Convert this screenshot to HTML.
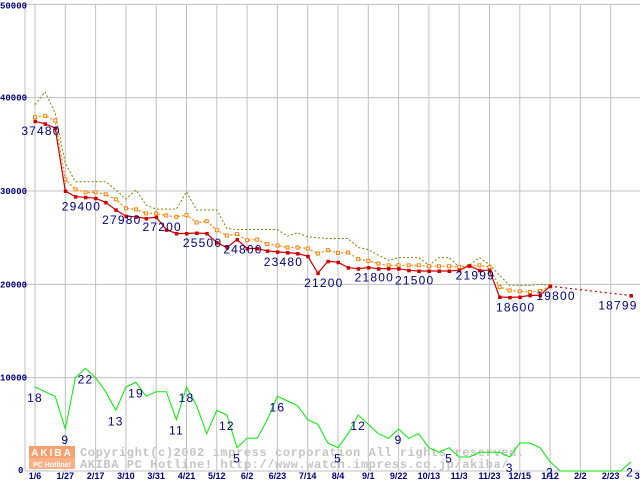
<!DOCTYPE html>
<html><head><meta charset="utf-8"><style>
html,body{margin:0;padding:0;background:#fff;}
svg{display:block;}
.yt{font:bold 9px "Liberation Mono",monospace;fill:#000080;}
.xt{font:bold 9px "Liberation Sans",sans-serif;fill:#000080;}
.pl{font:12px "Liberation Sans",sans-serif;fill:#000080;letter-spacing:1.2px;}
.wm{font:bold 12px "Liberation Mono",monospace;fill:#c4c4c4;letter-spacing:0.6px;}
</style></head><body>
<svg id="chart" width="640" height="480" xmlns="http://www.w3.org/2000/svg">
<g id="grid"></g>
<g id="wmark">
<rect x="29" y="446" width="46" height="12" fill="#f8a070"/>
<rect x="29" y="458" width="46" height="11" fill="#f8b088"/>
<text x="52" y="456" text-anchor="middle" style="font:bold 10px 'Liberation Sans',sans-serif;fill:#fff;letter-spacing:2px">AKIBA</text>
<text x="52" y="467" text-anchor="middle" style="font:bold 7px 'Liberation Sans',sans-serif;fill:#fff">PC Hotline!</text>
<text class="wm" x="80" y="456">Copyright(c)2002 impress corporation All rights reserved.</text>
<text class="wm" x="80" y="468">AKIBA PC Hotline!  http://www.watch.impress.co.jp/akiba/</text>
</g>
<g id="series"></g>
<g id="labels"></g>
</svg>
<script>
const xTickLabels=["1/6","1/27","2/17","3/10","3/31","4/21","5/12","6/2","6/23","7/14","8/4","9/1","9/22","10/13","11/3","11/23","12/15","1/12","2/2","2/23","3/9"];
const yTicks=[0,10000,20000,30000,40000,50000];
const maxPrice=[39250,40610,38350,32980,31000,31000,31000,31000,30110,29140,30110,28490,28060,28060,28060,29930,27960,27960,27960,25990,25880,25880,25880,25880,25880,25160,25520,25090,25000,24910,24910,24910,23950,23730,23120,22580,22870,22870,22870,22040,22870,22870,21860,22040,22870,22110,20970,19890,19890,19890,20000,19890];
const avgPrice=[37920,38060,37560,31260,30180,29860,29860,29640,29110,28140,28030,27600,27600,27380,27240,27420,26630,26770,25800,25230,25380,24730,24800,24300,24160,23950,23950,23840,23300,23660,23370,23410,22690,22510,22220,22040,22040,22040,22040,21940,21940,21940,21860,21940,22040,21860,19710,19350,19250,19180,19280,19800];
const minPrice=[37480,37200,36740,30000,29400,29330,29220,28780,27980,27310,27240,27060,27200,25840,25450,25450,25500,25450,24480,23950,24800,23840,23840,23580,23480,23400,23300,23010,21200,22470,22370,21790,21680,21800,21680,21680,21680,21500,21430,21430,21430,21430,21500,21999,21500,21500,18640,18600,18640,18820,18820,19800,null,null,null,null,null,null,null,18799];
const shopCount=[18,17,16,9,20,22,20,17,13,18,19,16,17,17,11,18,14,8,13,12,5,7,7,11,16,15,14,11,10,6,5,8,12,10,8,7,9,7,8,5,4,5,3,3,4,4,4,3,6,6,5,2,0,0,0,0,0,0,0,2];
const priceLabelIdx=[0,4,8,12,16,20,24,28,33,37,43,47,51,59];
const countLabelIdx=[0,3,5,8,10,14,15,19,20,24,30,32,36,41,47,51,59];
const COUNT_SCALE=500;
const NS="http://www.w3.org/2000/svg";
function X(i){return 35+i*10.1;}
function Y(v){return 471-v*0.009333;}
function mk(tag,attrs,parent){const e=document.createElementNS(NS,tag);for(const k in attrs)e.setAttribute(k,attrs[k]);parent.appendChild(e);return e;}
const grid=document.getElementById('grid'),ser=document.getElementById('series'),lab=document.getElementById('labels');
let e=mk('line',{x1:25,y1:4,x2:25,y2:471,stroke:'#c0c0c0'},grid);


xTickLabels.forEach((t,k)=>{const i=k*3;const x=X(i);
 let l=mk('line',{x1:x,y1:4,x2:x,y2:471,stroke:'#c0c0c0'},grid);
 
 
 let tx=mk('text',{x:x,y:479,'text-anchor':'middle',class:'xt'},grid);tx.textContent=t;
 
 
});
yTicks.forEach(v=>{const y=Y(v);
 let l=mk('line',{x1:25,y1:y,x2:640,y2:y,stroke:'#c0c0c0'},grid);
 
 
 let tx=mk('text',{x:v===0?18:0,y:v===50000?y+4:(v===0?y+2:y+3),class:'yt'},grid);tx.textContent=String(v);
 
 
});
function pts(arr,f){return arr.map((v,i)=>v==null?null:[X(i),Y(f?f(v):v)]).filter(p=>p);}
function poly(p,attrs,name){const el=mk('polyline',Object.assign({points:p.map(q=>q[0].toFixed(1)+','+q[1].toFixed(1)).join(' '),fill:'none'},attrs),ser);
 
 }
poly(pts(shopCount,c=>c*COUNT_SCALE),{stroke:'#00ee00','stroke-width':1},'shop-count-line');
poly(pts(maxPrice),{stroke:'#808000','stroke-width':1,'stroke-dasharray':'2,2'},'max-price-line');
poly(pts(avgPrice),{stroke:'#ff8000','stroke-width':1.2,'stroke-dasharray':'2,2'},'avg-price-line');
pts(avgPrice).forEach(p=>{const r=mk('rect',{x:p[0]-1.5,y:p[1]-1.5,width:3,height:3,fill:'#fff',stroke:'#ff8000','stroke-width':1},ser);
 
 });
let seg=[],segs=[];minPrice.forEach((v,i)=>{if(v==null){if(seg.length)segs.push(seg);seg=[];}else seg.push([X(i),Y(v)]);});if(seg.length)segs.push(seg);
segs.forEach(s=>poly(s,{stroke:'#cc0000','stroke-width':1.2},'min-price-line'));
for(let s=0;s<segs.length-1;s++){const a=segs[s][segs[s].length-1],b=segs[s+1][0];
 poly([a,b],{stroke:'#cc0000','stroke-width':1.2,'stroke-dasharray':'2,3'},'min-price-gap-line');}
pts(minPrice).forEach(p=>{const r=mk('rect',{x:p[0]-1.5,y:p[1]-1.5,width:3.5,height:3.5,fill:'#cc0000'},ser);
 
 });
priceLabelIdx.forEach(i=>{const v=minPrice[i];let x=X(i)+6;if(x>618)x=618;
 const t=mk('text',{x:x,y:Y(v)+14,'text-anchor':'middle',class:'pl'},lab);t.textContent=String(v);
 
 });
countLabelIdx.forEach(i=>{const c=shopCount[i];let x=X(i);if(x>630)x=630;
 const t=mk('text',{x:x,y:Y(c*COUNT_SCALE)+15,'text-anchor':'middle',class:'pl'},lab);t.textContent=String(c);
 
 });
</script>
</body></html>
